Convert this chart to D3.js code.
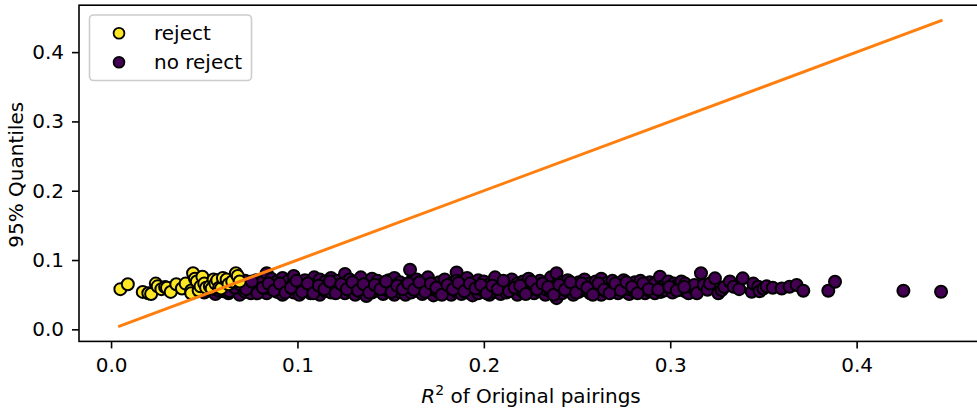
<!DOCTYPE html>
<html><head><meta charset="utf-8">
<script src="https://cdn.jsdelivr.net/npm/d3@7"></script>
<style>body{margin:0;background:#fff}svg{display:block}text{font-family:"DejaVu Sans",sans-serif;fill:#000}</style>
</head><body>
<svg id="c" width="977" height="410"></svg>
<script>
const xTicks = [0.0, 0.1, 0.2, 0.3, 0.4];
const yTicks = [0.0, 0.1, 0.2, 0.3, 0.4];
const legendLabels = ["reject", "no reject"];
const lineX = [0.0046, 0.4453];
const lineY = [0.0046, 0.4453];
const rejectPts = [[0.005,0.058],[0.009,0.065],[0.017,0.054],[0.020,0.052],[0.0215,0.051],[0.024,0.066],[0.025,0.062],[0.027,0.058],[0.029,0.061],[0.030,0.060],[0.032,0.054],[0.035,0.065],[0.038,0.059],[0.040,0.066],[0.043,0.056],[0.044,0.081],[0.043,0.052],[0.045,0.073],[0.046,0.069],[0.047,0.056],[0.048,0.062],[0.049,0.076],[0.050,0.066],[0.051,0.060],[0.053,0.062],[0.054,0.059],[0.055,0.072],[0.056,0.066],[0.057,0.071],[0.058,0.060],[0.059,0.059],[0.060,0.074],[0.062,0.072],[0.063,0.065],[0.065,0.069],[0.067,0.081],[0.068,0.077],[0.069,0.069]];
const noRejectPts = [
[0.050,0.053],[0.050,0.060],[0.053,0.056],[0.053,0.066],[0.056,0.051],[0.056,0.062],[0.056,0.070],[0.060,0.055],[0.060,0.064],
[0.063,0.052],[0.063,0.059],[0.063,0.068],[0.066,0.057],[0.066,0.063],[0.066,0.073],[0.069,0.050],[0.069,0.060],[0.069,0.067],
[0.072,0.054],[0.072,0.062],[0.072,0.070],[0.075,0.058],[0.075,0.065],[0.075,0.052],[0.078,0.061],[0.078,0.055],[0.078,0.071],
[0.081,0.057],[0.081,0.064],[0.081,0.068],[0.0835,0.081],[0.0835,0.052],[0.0835,0.060],[0.086,0.066],[0.086,0.058],[0.086,0.073],
[0.089,0.054],[0.089,0.062],[0.089,0.069],[0.092,0.050],[0.092,0.059],[0.092,0.065],[0.092,0.074],[0.095,0.056],[0.095,0.063],[0.095,0.070],
[0.098,0.053],[0.098,0.061],[0.098,0.067],[0.098,0.077],[0.101,0.058],[0.101,0.064],[0.101,0.050],[0.104,0.055],[0.104,0.062],[0.104,0.071],
[0.107,0.052],[0.107,0.060],[0.107,0.068],[0.109,0.075],[0.109,0.057],[0.109,0.064],[0.112,0.050],[0.112,0.059],[0.112,0.066],[0.112,0.072],
[0.115,0.055],[0.115,0.062],[0.115,0.069],[0.118,0.053],[0.118,0.060],[0.118,0.065],[0.118,0.074],[0.121,0.057],[0.121,0.063],[0.121,0.070],
[0.1255,0.080],[0.1255,0.052],[0.1255,0.061],[0.1255,0.067],[0.128,0.056],[0.128,0.063],[0.128,0.072],[0.131,0.050],[0.131,0.059],[0.131,0.066],
[0.134,0.054],[0.134,0.061],[0.134,0.069],[0.134,0.075],[0.137,0.048],[0.137,0.058],[0.137,0.064],[0.140,0.053],[0.140,0.060],[0.140,0.067],[0.140,0.073],
[0.143,0.056],[0.143,0.063],[0.143,0.070],[0.146,0.051],[0.146,0.059],[0.146,0.066],[0.149,0.055],[0.149,0.062],[0.149,0.071],
[0.152,0.050],[0.152,0.058],[0.152,0.065],[0.152,0.074],[0.155,0.054],[0.155,0.061],[0.155,0.068],[0.158,0.057],[0.158,0.064],[0.158,0.050],
[0.1604,0.086],[0.161,0.053],[0.161,0.060],[0.161,0.069],[0.164,0.056],[0.164,0.063],[0.164,0.072],[0.167,0.051],[0.167,0.059],[0.167,0.066],
[0.170,0.055],[0.170,0.062],[0.170,0.070],[0.170,0.075],[0.173,0.049],[0.173,0.058],[0.173,0.065],[0.176,0.053],[0.176,0.061],[0.176,0.068],
[0.179,0.056],[0.179,0.063],[0.179,0.072],[0.1825,0.050],[0.1825,0.059],[0.1825,0.066],[0.1854,0.082],[0.1854,0.054],[0.1854,0.062],[0.1854,0.070],
[0.188,0.057],[0.188,0.064],[0.188,0.051],[0.191,0.053],[0.191,0.060],[0.191,0.068],[0.191,0.074],[0.194,0.056],[0.194,0.063],[0.194,0.049],
[0.197,0.052],[0.197,0.059],[0.197,0.066],[0.197,0.071],[0.200,0.055],[0.200,0.062],[0.200,0.069],[0.203,0.050],[0.203,0.058],[0.203,0.065],
[0.206,0.054],[0.206,0.061],[0.206,0.068],[0.206,0.075],[0.209,0.057],[0.209,0.063],[0.209,0.051],[0.212,0.053],[0.212,0.060],[0.212,0.067],
[0.215,0.056],[0.215,0.064],[0.215,0.072],[0.218,0.050],[0.218,0.059],[0.218,0.066],[0.221,0.054],[0.221,0.061],[0.221,0.069],
[0.224,0.057],[0.224,0.063],[0.224,0.073],[0.227,0.052],[0.227,0.059],[0.227,0.066],[0.230,0.055],[0.230,0.062],[0.230,0.070],
[0.233,0.050],[0.233,0.058],[0.233,0.065],[0.236,0.054],[0.236,0.061],[0.236,0.068],[0.236,0.075],[0.239,0.045],[0.239,0.081],[0.239,0.057],[0.239,0.064],
[0.242,0.052],[0.242,0.060],[0.242,0.068],[0.245,0.055],[0.245,0.062],[0.245,0.071],[0.248,0.050],[0.248,0.058],[0.248,0.065],
[0.251,0.054],[0.251,0.061],[0.251,0.068],[0.254,0.057],[0.254,0.064],[0.254,0.072],[0.257,0.052],[0.257,0.059],[0.257,0.066],
[0.260,0.055],[0.260,0.062],[0.260,0.069],[0.263,0.050],[0.263,0.058],[0.263,0.065],[0.263,0.073],[0.266,0.054],[0.266,0.061],[0.266,0.067],
[0.269,0.057],[0.269,0.063],[0.269,0.070],[0.272,0.052],[0.272,0.059],[0.272,0.066],[0.275,0.055],[0.275,0.062],[0.275,0.071],
[0.278,0.051],[0.278,0.058],[0.278,0.065],[0.281,0.054],[0.281,0.061],[0.281,0.068],[0.284,0.057],[0.284,0.063],[0.284,0.070],
[0.2865,0.059],[0.2865,0.052],[0.289,0.055],[0.289,0.062],[0.289,0.068],[0.2918,0.059],[0.2918,0.052],[0.2918,0.066],[0.2945,0.076],
[0.295,0.054],[0.295,0.061],[0.297,0.056],[0.297,0.063],[0.299,0.069],[0.3012,0.059],[0.3012,0.053],[0.302,0.066],[0.304,0.064],[0.3053,0.059],
[0.306,0.057],[0.306,0.069],[0.308,0.055],[0.308,0.066],[0.3098,0.052],[0.3115,0.0615],[0.313,0.058],[0.313,0.064],[0.3143,0.052],[0.3165,0.081],
[0.318,0.064],[0.320,0.057],[0.3213,0.066],[0.324,0.0736],[0.3258,0.052],[0.3276,0.0567],[0.329,0.061],[0.332,0.069],[0.334,0.0615],[0.337,0.058],
[0.3389,0.0736],[0.3437,0.0543],[0.3446,0.066],[0.3472,0.0615],[0.348,0.055],[0.350,0.059],[0.3517,0.062],[0.355,0.060],[0.3598,0.059],
[0.364,0.0615],[0.3678,0.064],[0.3714,0.0557],[0.3848,0.0557],[0.3884,0.0687],[0.4251,0.0557],[0.4453,0.0543],
[0.0515,0.057],[0.0545,0.063],[0.0575,0.056],[0.0605,0.069],[0.0635,0.055],[0.0665,0.060],[0.0695,0.064],[0.0725,0.058],[0.0755,0.069],[0.0785,0.052],
[0.0815,0.060],[0.0845,0.066],[0.0875,0.056],[0.0905,0.066],[0.0935,0.053],[0.0965,0.060],[0.0995,0.070],[0.1025,0.054],[0.1055,0.066],[0.1085,0.052],
[0.1115,0.063],[0.1145,0.058],[0.1175,0.069],[0.1205,0.052],[0.1235,0.065],[0.1265,0.058],[0.1295,0.068],[0.1325,0.056],[0.1355,0.065],[0.1385,0.053],
[0.1415,0.064],[0.1445,0.058],[0.1475,0.069],[0.1505,0.054],[0.1535,0.063],[0.1565,0.058],[0.1595,0.066],[0.1625,0.057],[0.1655,0.068],[0.1685,0.054],
[0.1715,0.066],[0.1745,0.060],[0.1775,0.050],[0.1805,0.064],[0.1835,0.058],[0.1865,0.067],[0.1895,0.055],[0.1925,0.066],[0.1955,0.059],[0.1985,0.064],
[0.2015,0.052],[0.2045,0.063],[0.2075,0.058],[0.2105,0.070],[0.2135,0.055],[0.2165,0.060],[0.2195,0.063],[0.2225,0.051],[0.2255,0.069],[0.2285,0.058],
[0.2315,0.066],[0.2345,0.061],[0.2375,0.050],[0.2405,0.064],[0.2435,0.057],[0.2465,0.068],[0.2495,0.053],[0.2525,0.066],[0.2555,0.060],[0.2585,0.050],
[0.2615,0.066],[0.2645,0.057],[0.2675,0.052],[0.2705,0.066],[0.2735,0.056],[0.2765,0.068],[0.2795,0.061],[0.2825,0.052],[0.2855,0.066],[0.2885,0.058],
[0.2935,0.057],[0.2995,0.061],[0.3035,0.056],[0.3075,0.061]
];

const colors = {reject:"#fde725", noReject:"#440154", line:"#ff7f0e"};
const FS = "20px";
const svg = d3.select("#c");
const L = 79, R = 983, T = 5.2, B = 341.4;
const x = d3.scaleLinear().domain([-0.0172, 0.4678]).range([L, R]);
const y = d3.scaleLinear().domain([-0.0174, 0.4677]).range([B, T]);

// points
const g = svg.append("g");
g.selectAll("circle.nr").data(noRejectPts).join("circle").attr("class","nr")
  .attr("cx", d => x(d[0])).attr("cy", d => y(d[1])).attr("r", 6)
  .attr("fill", colors.noReject).attr("stroke", "#000").attr("stroke-width", 2);
g.selectAll("circle.rj").data(rejectPts).join("circle").attr("class","rj")
  .attr("cx", d => x(d[0])).attr("cy", d => y(d[1])).attr("r", 6)
  .attr("fill", colors.reject).attr("stroke", "#000").attr("stroke-width", 2);

// line
svg.append("path").datum(d3.zip(lineX, lineY))
  .attr("d", d3.line().x(d => x(d[0])).y(d => y(d[1])))
  .attr("fill","none").attr("stroke", colors.line).attr("stroke-width", 3).attr("stroke-linecap","square");

// axes
const fmt = d3.format(".1f");
const xa = svg.append("g").attr("transform", `translate(0,${B})`)
  .call(d3.axisBottom(x).tickValues(xTicks).tickFormat(fmt).tickSize(7).tickPadding(9.5).tickSizeOuter(0));
const ya = svg.append("g").attr("transform", `translate(${L},0)`)
  .call(d3.axisLeft(y).tickValues(yTicks).tickFormat(fmt).tickSize(7).tickPadding(8).tickSizeOuter(0));
[xa, ya].forEach(a => {
  a.selectAll("text").style("font-size", FS).style("font-family","DejaVu Sans");
  a.selectAll("line").attr("stroke","#000").attr("stroke-width",1.6);
  a.select(".domain").remove();
});
// spines
svg.append("rect").attr("x", L).attr("y", T).attr("width", R - L).attr("height", B - T)
  .attr("fill","none").attr("stroke","#000").attr("stroke-width",1.6);

// labels
const xl = svg.append("text").attr("x", (L + R) / 2).attr("y", 403).attr("text-anchor","middle").style("font-size", FS);
xl.append("tspan").text("R").style("font-style","italic");
xl.append("tspan").text("2").attr("dy", -8).style("font-size","14px");
xl.append("tspan").text(" of Original pairings").attr("dy", 8);
svg.append("text").attr("transform", `translate(23,${(T + B) / 2 + 1.5}) rotate(-90)`)
  .attr("text-anchor","middle").style("font-size", FS).text("95% Quantiles");

// legend
const lg = svg.append("g");
lg.append("rect").attr("x", 89.5).attr("y", 15).attr("width", 162).attr("height", 65.5).attr("rx", 4)
  .attr("fill","#fff").attr("fill-opacity",0.8).attr("stroke","#cccccc").attr("stroke-width",1.6);
const legendColors = [colors.reject, colors.noReject];
legendLabels.forEach((lab, i) => {
  const cy = 33.3 + i * 29;
  lg.append("circle").attr("cx", 119).attr("cy", cy).attr("r", 5.4)
    .attr("fill", legendColors[i]).attr("stroke","#000").attr("stroke-width",1.8);
  lg.append("text").attr("x", 154).attr("y", cy + 6.5).style("font-size", FS).text(lab);
});
</script>
</body></html>
